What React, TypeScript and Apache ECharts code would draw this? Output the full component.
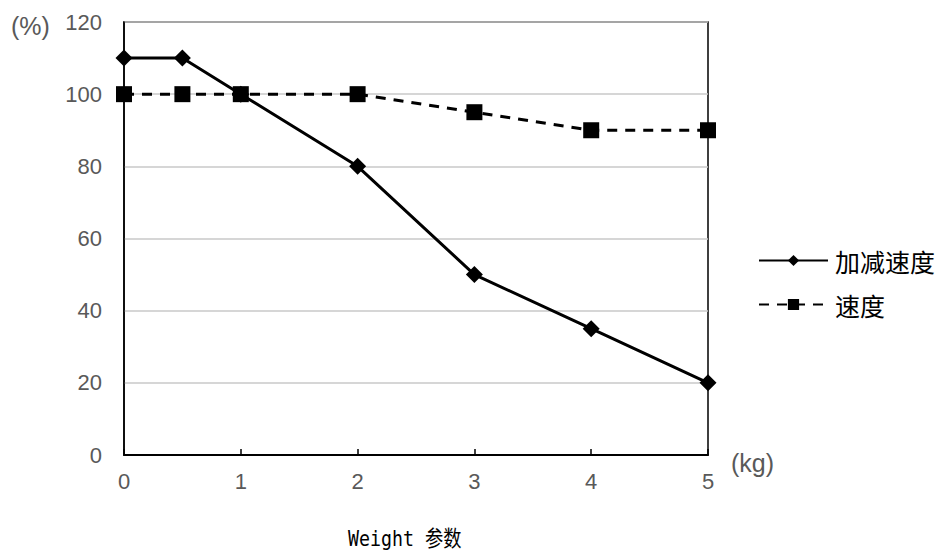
import React, { useEffect, useRef } from "react";
import * as echarts from "echarts";

const xValues = [0, 0.5, 1, 2, 3, 4, 5];
const accelValues = [110, 110, 100, 80, 50, 35, 20];
const speedValues = [100, 100, 100, 100, 95, 90, 90];
const seriesNames = ["加减速度", "速度"];

export default function App() {
  const ref = useRef<HTMLDivElement>(null);
  useEffect(() => {
    document.body.style.margin = "0";
    const chart = echarts.init(ref.current!, null, { renderer: "svg" });
    const labelFont = "Liberation Sans";
    chart.setOption({
      animation: false,
      backgroundColor: "#ffffff",
      grid: {
        left: 124,
        right: 244,
        top: 22,
        bottom: 96,
        show: true,
        borderColor: "#000000",
        borderWidth: 1.5,
        containLabel: false,
      },
      xAxis: {
        type: "value",
        min: 0,
        max: 5,
        interval: 1,
        axisLine: { show: true, lineStyle: { color: "#000000", width: 2 } },
        axisTick: { show: true, inside: true, length: 6, lineStyle: { color: "#000000", width: 1.5 } },
        axisLabel: { color: "#595959", fontSize: 22, fontFamily: labelFont, margin: 15 },
        splitLine: { show: false },
      },
      yAxis: {
        type: "value",
        min: 0,
        max: 120,
        interval: 20,
        axisLine: { show: true, lineStyle: { color: "#000000", width: 1.5 } },
        axisTick: { show: false },
        axisLabel: {
          color: "#595959",
          fontSize: 22,
          fontFamily: labelFont,
          margin: 22,
          showMaxLabel: true,
        },
        splitLine: {
          show: true,
          lineStyle: { color: "#c8c8c8", width: 1.5 },
        },
      },
      legend: {
        orient: "vertical",
        left: 758,
        top: 248,
        itemWidth: 69,
        itemHeight: 14,
        itemGap: 19,
        padding: 0,
        textStyle: { color: "#000000", fontSize: 25, fontFamily: "Noto Sans CJK SC", padding: [0, 0, 0, 2] },
        data: seriesNames,
      },
      graphic: [
        {
          type: "text",
          left: 11,
          top: 13,
          style: { text: "(%)", fill: "#595959", fontSize: 25, fontFamily: labelFont },
        },
        {
          type: "text",
          left: 731,
          top: 450,
          style: { text: "(kg)", fill: "#595959", fontSize: 25, fontFamily: labelFont },
        },
        {
          type: "text",
          x: 348,
          y: 538,
          scaleX: 0.83,
          style: {
            text: "Weight 参数",
            fill: "#000000",
            fontSize: 22,
            fontFamily: "DejaVu Sans Mono, Noto Sans CJK SC, monospace",
            textVerticalAlign: "middle",
            verticalAlign: "middle",
          },
        },
      ],
      series: [
        {
          name: seriesNames[0],
          type: "line",
          data: xValues.map((x, i) => [x, accelValues[i]]),
          symbol: "diamond",
          symbolSize: 17,
          lineStyle: { color: "#000000", width: 3, type: "solid" },
          itemStyle: { color: "#000000" },
          z: 3,
        },
        {
          name: seriesNames[1],
          type: "line",
          data: xValues.map((x, i) => [x, speedValues[i]]),
          symbol: "rect",
          symbolSize: 16,
          lineStyle: { color: "#000000", width: 3, type: [10, 8] },
          itemStyle: { color: "#000000" },
          z: 2,
        },
      ],
    });
    return () => chart.dispose();
  }, []);
  return <div ref={ref} style={{ width: 952, height: 551 }} />;
}
